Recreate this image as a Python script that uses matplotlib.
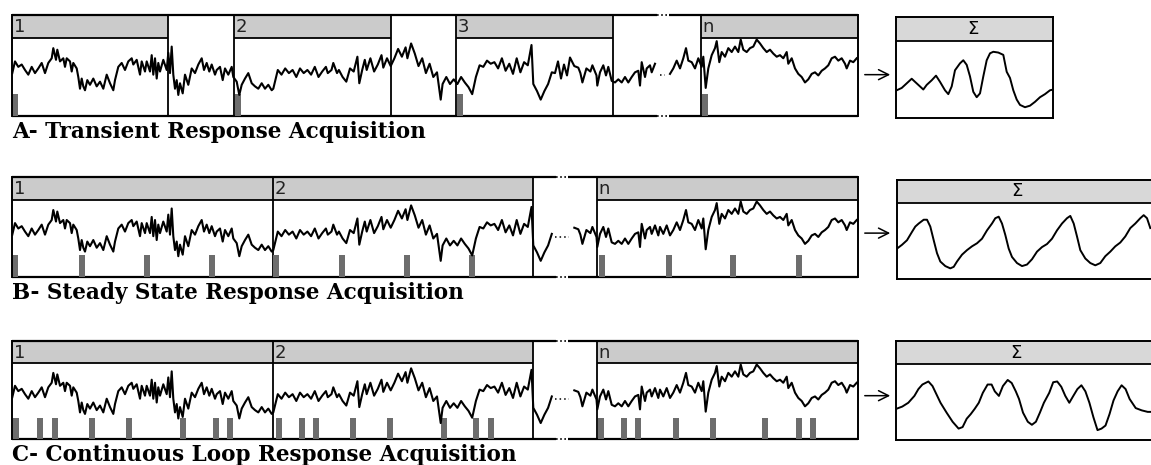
import numpy as np
import matplotlib
matplotlib.use("Agg")
import matplotlib.pyplot as plt
from matplotlib.patches import Rectangle

W, H = 1151, 465

# raw EEG trace shared by the three acquisition rows (time in samples, amplitude in % of panel)
eeg_t = [0.3, 3, 6.3, 9.7, 13, 16.3, 19.7, 23, 26.3, 29.7, 33, 36.3, 39.7, 41.3, 44, 45.3, 48, 51.3, 53, 54.7,
         58, 59.7, 61.3, 64.7, 66.3, 68, 69.7, 71.3, 73, 75.3, 78, 81.3, 84.7, 88, 91.3, 94.7, 98, 101.3, 103, 106.3,
         109.7, 113, 116.3, 119.7, 121.3, 124.7, 128, 129.7, 133, 134.7, 138, 139.7, 141.3, 143, 144.7, 146.3, 148,
         151.3, 154.7, 156.3, 158, 159.7, 161.3, 163, 164.7, 166.3, 168, 170.7, 173, 176.3, 179.7, 183, 186.3, 189.7,
         192, 194.7, 197.3, 199.7, 203, 204.7, 208, 210.7, 213, 216.3, 219.7, 221.3, 224.7, 227.3, 229.7, 233, 236.3,
         239.7, 243, 246.3, 249.7, 253, 256.3, 259.7, 261.3,
         265.8, 269.5, 273.2, 276.9, 280.6, 284.3, 288, 291.7, 295.4, 299.1, 302.8, 306.5, 310.2, 313.9, 315.8,
         319.5, 321.3, 325, 326.9, 330.6, 334.3, 338, 341.7, 345.4, 347.3, 350.2, 352.8, 354.7, 358.4, 362.1, 365.8,
         369.5, 371.3, 375, 378.7, 382.4, 386.1, 389.9, 393.6, 395.4, 399.1, 402.8, 406.5, 410.2, 413.9, 417.6,
         421.3, 425, 428.7, 430.6, 434.3, 438, 441.7, 445.4, 449.1, 452.8, 456.5, 460.2, 463.9, 467.6, 471.3, 475,
         478.7, 482.4, 486.1, 489.9, 493.6, 497.3, 501, 504.7, 508.4, 512.1, 515.8, 517.6, 519.5, 521.3, 525, 528.7,
         532.4, 536.1, 539.8, 543, 546, 549, 552, 555, 558, 562.3, 566.3, 568.4, 570.4, 574.4, 578.4, 580.4, 584.5,
         585.3, 588, 591.3, 594, 596.3, 599.7, 603, 606.3, 609.7, 613, 616.3, 619.7, 623, 626.3, 628, 629.7, 633,
         634.7, 638, 639.7, 643, 646.3, 648, 651.3, 654.7, 658, 661.3, 664.7, 668, 671.3, 674, 676.3, 679.7, 683,
         686.3, 689.7, 691.3, 693.7, 696.3, 699.7, 703, 704.7, 707.3, 709.7, 713, 716.3, 719.7, 723, 726.3, 728.7,
         731.3, 734.7, 738, 741.3, 744.7, 748, 751.3, 754.7, 758, 761.3, 764.7, 768, 771.3, 774.7, 776.3, 779.7,
         783, 786.3, 789.7, 793, 796.3, 799.7, 803, 806.3, 809.7, 813, 816.3, 819.7, 823, 826.3, 829.7, 833, 834.7,
         838, 841.3, 844.7]
eeg_v = [55, 70, 63, 66, 59, 53, 63, 55, 61, 68, 55, 68, 74, 87, 72, 85, 70, 74, 63, 74,
         70, 57, 68, 61, 50, 35, 48, 38, 33, 46, 40, 48, 38, 44, 35, 53, 42, 33, 46, 63,
         68, 59, 70, 74, 66, 72, 53, 70, 57, 70, 57, 78, 53, 74, 48, 68, 57,
         72, 59, 81, 55, 89, 53, 35, 46, 27, 42, 29, 53, 40, 61, 55, 66, 74,
         59, 68, 57, 66, 53, 59, 63, 46, 61, 53, 63, 50, 44, 27, 40, 48, 55,
         42, 38, 35, 42, 35, 40, 33, 35,
         59, 53, 61, 55, 59, 50, 61, 55, 59, 53, 63, 50, 57, 63, 55,
         59, 68, 55, 59, 50, 44, 61, 57, 76, 42, 59, 72, 59, 74, 57, 66,
         78, 62, 74, 64, 74, 86, 76, 88, 74, 93, 80, 64, 74, 55, 67,
         50, 56, 21, 41, 50, 41, 47, 41, 50, 43, 37, 28, 50, 65, 63, 71,
         67, 69, 61, 74, 58, 67, 54, 74, 56, 69, 65, 78, 91, 41, 32, 21,
         32, 41, 56, 55, 70, 48, 66, 52, 75, 64, 62, 55, 43, 61, 57, 65, 52,
         39, 56, 65, 52, 63, 45, 43, 47, 43, 50, 43, 50, 56, 58, 39, 69, 50,
         61, 65, 56, 67, 54, 65, 56, 67, 54, 61, 71, 61, 74, 87, 71, 69, 61,
         74, 63, 76, 36, 61, 78, 87, 96, 69, 82, 76, 87, 82, 89, 82, 98,
         85, 82, 87, 89, 98, 93, 87, 82, 85, 80, 76, 78, 74, 82, 67, 74,
         61, 54, 50, 43, 47, 54, 56, 52, 58, 61, 65, 74, 76, 71, 74, 67, 61,
         71, 69, 74]

# epoch boundaries (samples) per acquisition mode
epochs_a = [(0, 156, "1"), (222, 379, "2"), (444, 601, "3"), (689, 846, "n")]
epochs_bc = [(0, 261, "1"), (261, 521, "2"), (585, 846, "n")]
gap_a = (645, 656)
gap_bc = (540, 560)

# stimulus onsets (samples)
stim_a = [0, 223, 445, 690]
stim_b = [0, 67, 132, 197, 261, 327, 392, 457, 587, 654, 718, 784]
stim_c = [1, 25, 40, 77, 114, 168, 201, 215, 264, 287, 301, 338, 375, 429, 461, 476,
          586, 609, 623, 661, 698, 750, 784, 798]

# averaged responses
sum_a_t = [0.7, 5.7, 10.7, 15.7, 19, 24, 27.3, 30.7, 35.7, 40, 44, 49, 52.3, 55.7, 59, 64, 67.3, 70.7, 74,
           77.3, 80.7, 84, 87.3, 90.7, 94, 97.3, 102.3, 107.3, 110.7, 114, 117.3, 120.7, 124, 129, 134, 139,
           144, 149, 154, 157.3]
sum_a_v = [36, 39, 45, 51, 47, 41, 37, 43, 49, 55, 47, 36, 31, 41, 62, 71, 75, 69, 54,
           34, 27, 32, 54, 75, 84, 86, 85, 82, 60, 52, 36, 24, 17, 14, 16, 21,
           27, 31, 36, 37]
sum_b_t = [0, 5, 10, 15, 18.3, 21.7, 26.7, 30, 33.3, 36.7, 40, 43.3, 48.3, 53.3, 56.7, 60, 65, 70, 75, 80, 85,
           90, 95, 98.3, 101.7, 105, 108.3, 111.7, 115, 120, 125, 130, 135, 140, 145, 150, 155, 160, 165, 170,
           173.3, 176.7, 180, 183.3, 188.3, 193.3, 198.3, 203.3, 208.3, 213.3, 218.3, 223.3, 228.3, 233.3,
           238.3, 243.3, 246.7, 250, 253.3]
sum_b_v = [40, 45, 51, 62, 69, 73, 78, 78, 69, 51, 34, 23, 17, 14, 16, 23, 32, 38, 43, 47, 53,
           64, 73, 80, 82, 73, 58, 40, 29, 21, 17, 19, 26, 36, 42, 46, 53, 64, 73, 80,
           83, 73, 56, 38, 27, 21, 18, 21, 30, 36, 43, 48, 56, 67,
           73, 80, 84, 80, 67]
sum_c_t = [0.3, 6.3, 12.3, 18.4, 22.4, 26.4, 32.4, 36.5, 40.5, 44.5, 50.6, 56.6, 62.6, 66.6, 70.7, 74.7, 78.7,
           82.8, 86.8, 91.6, 95.6, 98.8, 102.9, 106.9, 111.7, 115.7, 119.8, 123, 127, 131.8, 135.9, 139.9, 143.9,
           147.9, 153.2, 157.2, 161.2, 165.3, 169.3, 173.3, 177.3, 181.4, 185.4, 189.4, 193.4, 197.4, 201.5,
           205.5, 209.5, 213.5, 217.5, 221.6, 225.6, 229.6, 233.6, 239.7, 245.7, 251.7, 256]
sum_c_v = [41, 44, 49, 58, 67, 73, 77, 71, 60, 49, 36, 24, 15, 17, 28, 34, 41,
           49, 62, 73, 73, 64, 58, 71, 79, 75, 64, 54, 36, 24, 20, 24, 36,
           49, 62, 76, 77, 70, 58, 49, 58, 67, 72, 64, 49, 30, 13,
           15, 19, 34, 52, 64, 72, 67, 54, 42, 39, 37, 37]

titles = ["A- Transient Response Acquisition",
          "B- Steady State Response Acquisition",
          "C- Continuous Loop Response Acquisition"]


def px_axes(fig, l, t, r, b):
    ax = fig.add_axes([l / W, 1 - b / H, (r - l) / W, (b - t) / H])
    ax.set_xticks([])
    ax.set_yticks([])
    return ax


def draw_row(fig, top, hb, bottom, epochs, gap, stim, title, arrow_v):
    ax = px_axes(fig, 12, top, 858, bottom)
    ytop = 100.0 * (bottom - top) / (bottom - hb)
    ax.set_xlim(0, 846)
    ax.set_ylim(0, ytop)
    for s in ["top", "bottom"]:
        ax.spines[s].set_visible(False)
    for s in ["left", "right"]:
        ax.spines[s].set_linewidth(1.4)

    # grey headers and box borders
    for t0, t1, lab in epochs:
        ax.add_patch(Rectangle((t0, 100), t1 - t0, ytop - 100, facecolor="#cbcbcb", edgecolor="none", zorder=0))
        ax.hlines(100, t0, t1, color="black", lw=1.3)
        ax.text(t0 + 1.5, (100 + ytop) / 2 - 1, lab, ha="left", va="center", fontsize=13,
                family="DejaVu Sans", color="#222222")
    edges = sorted(set([e[0] for e in epochs] + [e[1] for e in epochs]))
    ax.vlines(edges[1:-1], 0, ytop, color="black", lw=1.3)

    # frame top/bottom with a dotted break above the skipped stretch
    brk = ((gap[0] + gap[1]) / 2 - 6, (gap[0] + gap[1]) / 2 + 6)
    for y in (0, ytop):
        ax.hlines(y, 0, brk[0], color="black", lw=1.6, clip_on=False)
        ax.hlines(y, brk[1], 846, color="black", lw=1.6, clip_on=False)
        ax.plot(brk, [y, y], color="black", lw=1.2, ls=(0, (1, 1.5)), clip_on=False)

    t = np.array(eeg_t)
    v = np.array(eeg_v, dtype=float)
    v[(t > gap[0]) & (t < gap[1])] = np.nan
    ax.plot(t, v, color="black", lw=1.5, zorder=3)
    ax.plot([gap[0] + 3, gap[1] - 3], [52, 52], color="black", lw=1.1, ls=(0, (1, 2)))

    ax.bar(stim, 28, width=5.5, align="edge", color="#6d6d6d", zorder=2)

    ax.annotate("", xy=(881, arrow_v), xytext=(850, arrow_v), annotation_clip=False,
                arrowprops=dict(arrowstyle="->", color="black", lw=1.1, mutation_scale=18))

    fig.text(12 / W, 1 - (bottom + 22) / H, title, ha="left", va="baseline",
             fontsize=15.5, family="DejaVu Serif", weight="bold")


def draw_sum(fig, left, right, top, hb, bottom, st, sv, sig_t):
    ax = px_axes(fig, left, top, right, bottom)
    ytop = 100.0 * (bottom - top) / (bottom - hb)
    ax.set_xlim(0, right - left)
    ax.set_ylim(0, ytop)
    for s in ax.spines.values():
        s.set_linewidth(1.4)
    ax.add_patch(Rectangle((0, 100), right - left, ytop - 100, facecolor="#d8d8d8", edgecolor="none", zorder=0))
    ax.axhline(100, color="black", lw=1.3)
    ax.text(sig_t, (100 + ytop) / 2, "\u03a3", ha="center", va="center", fontsize=13, family="DejaVu Sans")
    ax.plot(st, sv, color="black", lw=1.4)


fig = plt.figure(figsize=(W / 100, H / 100), dpi=100)

draw_row(fig, 15, 38, 116, epochs_a, gap_a, stim_a, titles[0], 53)
draw_row(fig, 177, 200, 277, epochs_bc, gap_bc, stim_b, titles[1], 57)
draw_row(fig, 341, 363, 439, epochs_bc, gap_bc, stim_c, titles[2], 57)

draw_sum(fig, 896, 1053, 17, 41, 118, sum_a_t, sum_a_v, 77)
draw_sum(fig, 897, 1165, 180, 203, 279, sum_b_t, sum_b_v, 120)
draw_sum(fig, 896, 1165, 341, 364, 440, sum_c_t, sum_c_v, 120)

fig.savefig("out.png", dpi=100)
